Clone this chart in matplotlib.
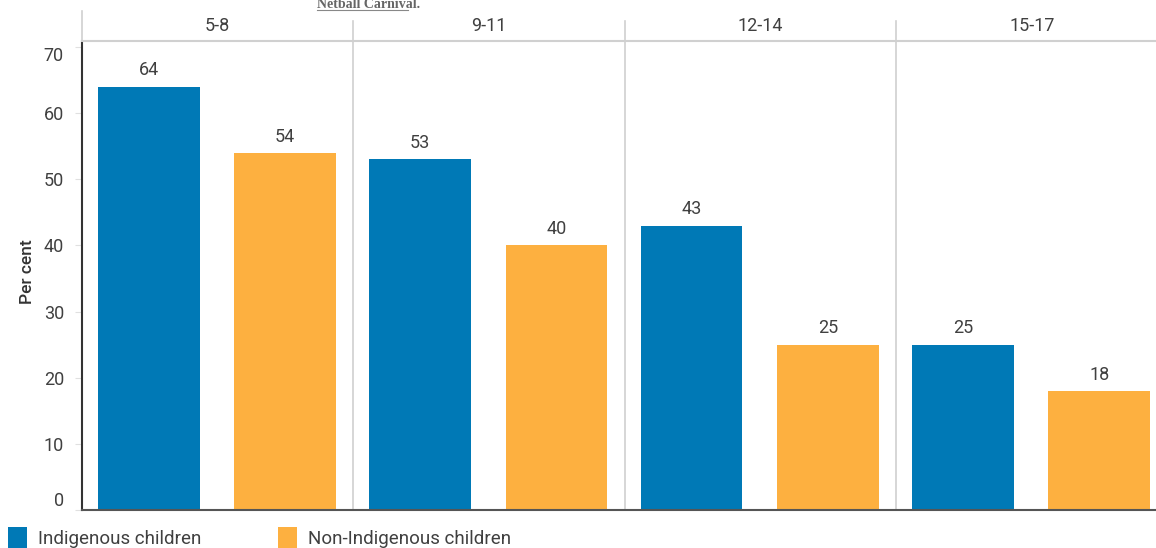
import matplotlib
matplotlib.use("Agg")
import matplotlib.pyplot as plt
from matplotlib.lines import Line2D
from matplotlib.patches import Rectangle

age_groups = ["5-8", "9-11", "12-14", "15-17"]
indigenous = [64, 53, 43, 25]
non_indigenous = [54, 40, 25, 18]
series_names = ["Indigenous children", "Non-Indigenous children"]
yticks = [0, 10, 20, 30, 40, 50, 60, 70]

BLUE = "#0079b6"
ORANGE = "#fdb040"
TEXT = "#404040"
GRID = "#d0d0d0"

plt.rcParams["font.family"] = ["Roboto", "DejaVu Sans"]

W, H = 1156, 548
GROUP_PX = 271.4
fig = plt.figure(figsize=(W / 100, H / 100), dpi=100)
ax = fig.add_axes([82 / W, 1 - 510 / H, 1 - 82 / W, (510 - 41) / H])

n = len(age_groups)
bar_w = 0.375
for i in range(n):
    xb = i + 0.246
    xo = i + 0.748
    ax.bar(xb, indigenous[i], width=bar_w, color=BLUE, zorder=2)
    ax.bar(xo, non_indigenous[i], width=bar_w, color=ORANGE, zorder=2)
    ax.text(xb, indigenous[i] + 1.1, str(indigenous[i]), ha="center", va="bottom",
            fontsize=13, color=TEXT)
    ax.text(xo, non_indigenous[i] + 1.1, str(non_indigenous[i]), ha="center", va="bottom",
            fontsize=13, color=TEXT)
    if i > 0:
        ax.axvline(i, color=GRID, lw=1.2, zorder=1)

ax.set_xlim(0, (W - 82) / GROUP_PX)
ax.set_ylim(0, 70.9)
ax.set_xticks([])
ax.set_yticks(yticks)
labels = ax.set_yticklabels([str(t) for t in yticks], fontsize=13, color=TEXT)
labels[0].set_va("bottom")
labels[-1].set_va("top")
ax.tick_params(axis="y", length=5, color="#e0e0e0", pad=8)

ax.spines["right"].set_visible(False)
ax.spines["top"].set_color(GRID)
ax.spines["top"].set_linewidth(1.5)
ax.spines["left"].set_color("#333333")
ax.spines["left"].set_linewidth(1.5)
ax.spines["bottom"].set_color("#555555")
ax.spines["bottom"].set_linewidth(1.5)

ax.set_ylabel("Per cent", fontsize=12.5, color="#333333", fontweight="medium")
ax.yaxis.set_label_coords(-(82 - 35) / (W - 82), (510 - 272) / (510 - 41))

# panel headers above the plot
for i, g in enumerate(age_groups):
    xf = (82 + GROUP_PX * (i + 0.5)) / W
    fig.text(xf, 1 - 26 / H, g, ha="center", va="center", fontsize=13, color=TEXT)
    xs = (82 + GROUP_PX * i) / W
    top = 11 if i == 0 else 21
    fig.add_artist(Line2D([xs, xs], [1 - top / H, 1 - 41 / H], color=GRID, lw=1.2))

# partial caption text at the very top
fig.text(317 / W, 1 - 8 / H, "Netball Carnival.", ha="left", va="baseline",
         fontsize=10, fontweight="bold", color="#666666",
         family=["Liberation Serif", "DejaVu Serif"])
fig.add_artist(Line2D([317 / W, 408 / W], [1 - 9.5 / H, 1 - 9.5 / H], color="#888888", lw=0.8))

# legend
for j, (name, col) in enumerate(zip(series_names, [BLUE, ORANGE])):
    x0 = [8, 278][j]
    fig.add_artist(Rectangle((x0 / W, 0), 19 / W, 21 / H, transform=fig.transFigure,
                             color=col, lw=0))
    fig.text((x0 + 30) / W, 1 - 539 / H, name, ha="left", va="center",
             fontsize=13.5, color=TEXT)

fig.savefig("out.png", dpi=100)
